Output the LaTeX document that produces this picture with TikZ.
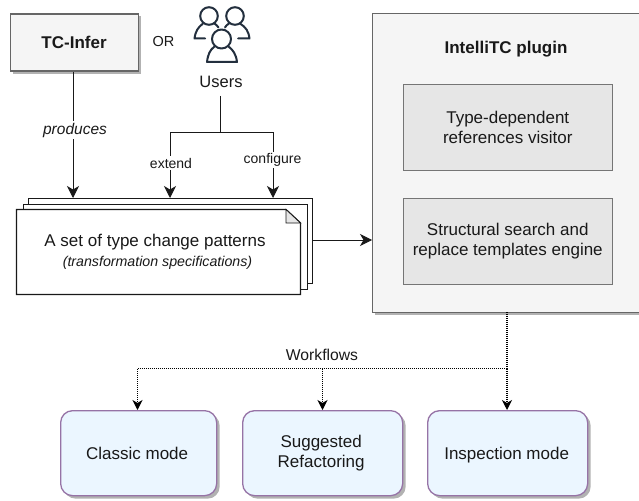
\documentclass[tikz,border=0pt]{standalone}
\usepackage{fontspec}
\setmainfont{Liberation Sans}
\usetikzlibrary{arrows.meta,shadows}
\definecolor{greyline}{HTML}{666666}
\definecolor{greyfill}{HTML}{F5F5F5}
\definecolor{innerfill}{HTML}{E6E6E6}
\definecolor{modefill}{HTML}{EBF6FF}
\definecolor{modeline}{HTML}{9673A6}
\definecolor{iconcol}{HTML}{232F3E}
\tikzset{
  x=1pt,y=-1pt,
  every node/.style={font=\fontsize{17}{20}\selectfont,align=center,inner sep=0pt,text=black!90},
  innerbox/.style={draw=greyline!90,fill=innerfill,line width=1pt},
  modebox/.style={draw=modeline,fill=modefill,line width=1.3pt,rounded corners=12pt,drop shadow={shadow xshift=3pt,shadow yshift=-3pt,fill=black!30,opacity=1}},
  conn/.style={draw=black!90,line width=1pt},
  arr/.style={conn,-{Stealth[length=12pt,width=12pt,inset=3.5pt]}},
  dot/.style={draw=black,line width=1.1pt,dash pattern=on 1pt off 1pt},
  dotarr/.style={dot,-{Stealth[length=10pt,width=10pt,inset=3pt,sep=0pt]}},
  sheet/.style={draw=black!90,fill=white,line width=1.3pt},
  lbl/.style={font=\fontsize{14}{16}\selectfont,fill=white,inner sep=1.5pt},
  iconline/.style={draw=iconcol,line width=2pt,line cap=round,line join=round},
}
\begin{document}
\begin{tikzpicture}
\useasboundingbox (0,0) rectangle (639,500);
% plugin
\fill[black!30] (375,16) rectangle (639,315);
\node[draw=greyline,fill=greyfill,line width=1.1pt,minimum width=268pt,minimum height=299pt,anchor=north west] (plugin) at (372,13) {};
\node[font=\fontsize{17}{20}\selectfont\bfseries] (plugintitle) at (506,49) {IntelliTC plugin};
\node[innerbox,minimum width=209.5pt,minimum height=85.5pt,anchor=north west] (visitor) at (402.5,84) {Type-dependent\\references visitor};
\node[innerbox,minimum width=209.5pt,minimum height=85.5pt,anchor=north west] (engine) at (402.5,198) {Structural search and\\replace templates engine};
% tc-infer
\fill[black!30] (12.5,16.5) rectangle (140.5,74);
\node[draw=greyline,fill=greyfill,line width=1.1pt,minimum width=128pt,minimum height=57pt,anchor=north west,font=\fontsize{17}{20}\selectfont\bfseries] (infer) at (9.5,13.5) {TC-Infer};
\node[font=\fontsize{14.5}{16}\selectfont] (or) at (163.5,42) {OR};
% users icon
\begin{scope}[iconline]
  \draw (209,16) circle[radius=8.8];
  \draw (235,16) circle[radius=8.8];
  \draw (221.5,39) circle[radius=9.5];
  \draw (205,38.5) -- (194.5,38.5) .. controls (195.5,31) and (198,27.5) .. (203,23.5);
  \draw (214.5,23.5) .. controls (216,24.5) and (217.5,26) .. (218.5,27.5);
  \draw (238,38.5) -- (249.5,38.5) .. controls (248.5,31) and (246,27.5) .. (240,23.5);
  \draw (229,23.5) .. controls (227,24.5) and (226,26) .. (225,27.5);
  \draw (207,62) -- (237,62) .. controls (236,54) and (233,50) .. (228.5,46.5);
  \draw (207,62) .. controls (208,54) and (210,50) .. (214.5,46.5);
\end{scope}
\node[font=\fontsize{16.5}{20}\selectfont] (users) at (221,82) {Users};
% stack
\node[sheet,minimum width=284pt,minimum height=85pt,anchor=north west] (s3) at (28,198) {};
\node[sheet,minimum width=284pt,minimum height=85pt,anchor=north west] (s2) at (22.5,203.5) {};
\coordinate (s1nw) at (16.5,209.5);
\coordinate (s1f) at (286,209.5);
\coordinate (s1r) at (300.5,223);
\coordinate (s1se) at (300.5,294.5);
\coordinate (s1sw) at (16.5,294.5);
\draw[sheet] (s1nw) -- (s1f) -- (s1r) -- (s1se) -- (s1sw) -- cycle;
\draw[draw=black!90,fill=innerfill,line width=.8pt] (s1f) -- (286,223) -- (s1r) -- cycle;
\node[font=\fontsize{17}{20}\selectfont] (settitle) at (155,242) {A set of type change patterns};
\node[font=\fontsize{14.2}{16}\selectfont\itshape] (setsub) at (157.5,263) {(transformation specifications)};
% connectors
\coordinate (infertop) at (73,198);
\draw[arr] (infer.south -| infertop) -- (infertop);
\node[lbl,font=\fontsize{15.5}{17}\selectfont\itshape] (prod) at (75,130) {produces};
\coordinate (branch) at (220.5,132.5);
\coordinate (exttop) at (170,198);
\coordinate (conftop) at (273,198);
\draw[conn] (220.5,96) -- (branch);
\draw[arr] (branch) -| (exttop);
\draw[arr] (branch) -| (conftop);
\node[lbl] (ext) at (171,163) {extend};
\node[lbl] (conf) at (272.5,160) {configure};
\coordinate (pluginin) at (372,240);
\draw[arr] (s3.east |- pluginin) -- (pluginin);
% modes
\node[modebox,minimum width=156pt,minimum height=85pt,anchor=north west,text depth=0pt] (classic) at (60,410) {Classic mode\hspace*{3pt}};
\node[modebox,minimum width=160pt,minimum height=85pt,anchor=north west] (suggested) at (242,410) {Suggested\hspace*{3pt}\\Refactoring\hspace*{3pt}};
\node[modebox,minimum width=160pt,minimum height=85pt,anchor=north west,text depth=0pt] (inspection) at (427,410) {Inspection mode\hspace*{2pt}};
\coordinate (ws) at (507,368.5);
\draw[dot] (507,312) -- (ws);
\draw[dotarr] (ws) -- (inspection.north -| ws);
\draw[dotarr] (ws) -| (classic.north -| 137.5,0);
\draw[dotarr] (322.5,368.5) -- (suggested.north -| 322.5,0);
\node[font=\fontsize{15.7}{17}\selectfont] (wf) at (322,355) {Workflows};
\end{tikzpicture}
\end{document}
